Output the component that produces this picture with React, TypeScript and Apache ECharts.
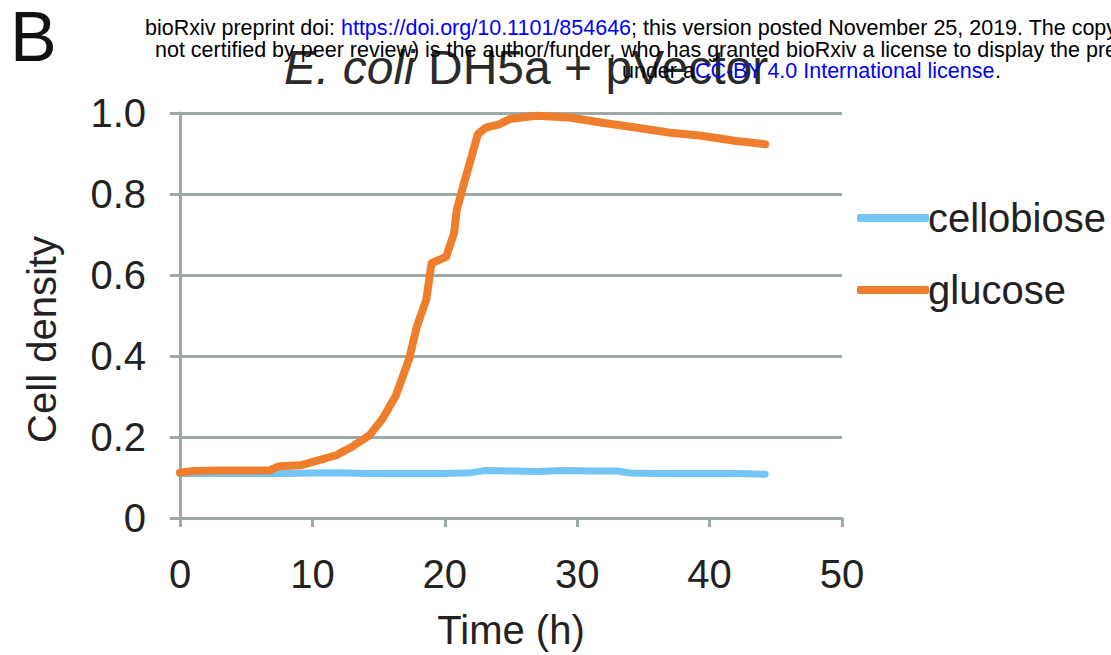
import React, { useEffect, useRef } from "react";
import * as echarts from "echarts";

const seriesNames = ["cellobiose", "glucose"];
const seriesColors = ["#72c5f4", "#ef7e2c"];

const cellobiose: [number, number][] = [
  [0, 0.11], [2, 0.11], [4, 0.11], [6, 0.11], [8, 0.11], [10, 0.111], [12, 0.112],
  [14, 0.11], [16, 0.11], [18, 0.11], [20, 0.11], [22, 0.112], [23, 0.117], [25, 0.116],
  [27, 0.115], [29, 0.117], [31, 0.116], [33, 0.116], [34, 0.111], [36, 0.11], [38, 0.11],
  [40, 0.11], [42, 0.11], [44.2, 0.108],
];

const glucose: [number, number][] = [
  [0, 0.112], [1, 0.116], [3, 0.117], [5, 0.117], [6.8, 0.118], [7.5, 0.128], [9.1, 0.13],
  [10.5, 0.143], [11.8, 0.155], [13.0, 0.176], [14.3, 0.204], [15.3, 0.245], [16.3, 0.302],
  [17.3, 0.392], [17.9, 0.474], [18.6, 0.539], [19.0, 0.629], [20.1, 0.645], [20.7, 0.703],
  [20.9, 0.76], [21.3, 0.809], [22.0, 0.89], [22.5, 0.948], [23.1, 0.964], [24.1, 0.972],
  [24.9, 0.985], [26.9, 0.993], [29.4, 0.989], [31.9, 0.976], [34.4, 0.964], [36.9, 0.952],
  [39.4, 0.944], [42.0, 0.931], [44.2, 0.923],
];

const xTicks = [0, 10, 20, 30, 40, 50];
const yTicks = [0, 0.2, 0.4, 0.6, 0.8, 1.0];

const headerLine1 = ["bioRxiv preprint doi: ", "https://doi.org/10.1101/854646", "; this version posted November 25, 2019. The copyright holder for this preprint (which was"];
const headerLine2 = "not certified by peer review) is the author/funder, who has granted bioRxiv a license to display the preprint in perpetuity. It is made available";
const headerLine3 = ["under a", "CC-BY 4.0 International license", "."];

const FONT = "'Liberation Sans', Arial, Helvetica, sans-serif";
const GRID_COLOR = "#9eaaaa";
const HF = 21.5;

export default function App() {
  const ref = useRef<HTMLDivElement>(null);
  useEffect(() => {
    if (!ref.current) return;
    const chart = echarts.init(ref.current, undefined, { renderer: "svg" });
    const option: any = {
      animation: false,
      backgroundColor: "#ffffff",
      textStyle: { fontFamily: FONT },
      title: {
        text: "{i|E. coli} DH5a + pVector",
        left: 279,
        top: 38,
        textStyle: {
          fontSize: 48,
          fontWeight: "normal",
          color: "#2a2a2a",
          fontFamily: FONT,
          rich: {
            i: { fontSize: 48, fontStyle: "italic", color: "#2a2a2a", fontFamily: FONT },
          },
        },
      },
      legend: {
        orient: "vertical",
        left: 852,
        top: 191,
        itemWidth: 72,
        itemHeight: 8,
        itemGap: 28,
        icon: "roundRect",
        data: seriesNames.map((n, i) => ({ name: n, itemStyle: { color: seriesColors[i] } })),
        textStyle: { fontSize: 40, color: "#222", fontFamily: FONT, lineHeight: 44, padding: [0, 0, 0, -6] },
      },
      grid: { left: 180, top: 113, width: 662, height: 407, containLabel: false },
      xAxis: {
        type: "value",
        min: xTicks[0],
        max: xTicks[xTicks.length - 1],
        interval: 10,
        name: "Time (h)",
        nameLocation: "middle",
        nameGap: 92,
        nameTextStyle: { fontSize: 40, color: "#222", fontFamily: FONT },
        axisLine: { show: true, lineStyle: { color: GRID_COLOR, width: 3 } },
        axisTick: { show: true, length: 9, lineStyle: { color: GRID_COLOR, width: 3 } },
        axisLabel: { fontSize: 40, color: "#222", margin: 36, fontFamily: FONT },
        splitLine: { show: false },
      },
      yAxis: {
        type: "value",
        min: yTicks[0],
        max: yTicks[yTicks.length - 1],
        interval: 0.2,
        name: "Cell density",
        nameLocation: "middle",
        nameGap: 118,
        nameRotate: 90,
        nameTextStyle: { fontSize: 40, color: "#222", fontFamily: FONT, padding: [0, 48, 0, 0] },
        axisLine: { show: true, lineStyle: { color: GRID_COLOR, width: 3 } },
        axisTick: { show: true, length: 10, lineStyle: { color: GRID_COLOR, width: 3 } },
        axisLabel: {
          fontSize: 40,
          color: "#222",
          margin: 34,
          fontFamily: FONT,
          formatter: (v: number) => (v === 0 ? "0" : v.toFixed(1)),
        },
        splitLine: { show: true, lineStyle: { color: GRID_COLOR, width: 3 } },
      },
      series: [
        {
          name: seriesNames[0],
          type: "line",
          data: cellobiose,
          showSymbol: false,
          symbol: "none",
          color: seriesColors[0],
          lineStyle: { width: 7, color: seriesColors[0], cap: "round", join: "round" },
          z: 3,
        },
        {
          name: seriesNames[1],
          type: "line",
          data: glucose,
          showSymbol: false,
          symbol: "none",
          color: seriesColors[1],
          lineStyle: { width: 8, color: seriesColors[1], cap: "round", join: "round" },
          z: 4,
        },
      ],
      graphic: [
        {
          type: "text",
          left: 10,
          top: 2,
          z: 100,
          style: { text: "B", fontSize: 70, fill: "#111", fontFamily: FONT },
        },
        {
          type: "text",
          x: 145,
          y: 28,
          z: 100,
          style: {
            text: `{k|${headerLine1[0]}}{b|${headerLine1[1]}}{k|${headerLine1[2]}}`,
            verticalAlign: "middle",
            fontFamily: FONT,
            fontSize: HF,
            rich: {
              k: { fill: "#000", fontSize: HF, fontFamily: FONT },
              b: { fill: "#0000ff", fontSize: HF, fontFamily: FONT },
            },
          },
        },
        {
          type: "text",
          x: 155,
          y: 50,
          z: 100,
          style: { text: headerLine2, verticalAlign: "middle", fill: "#000", fontSize: HF, fontFamily: FONT },
        },
        {
          type: "text",
          x: 622,
          y: 71,
          z: 100,
          style: {
            text: `{k|${headerLine3[0]}}{b|${headerLine3[1]}}{k|${headerLine3[2]}}`,
            verticalAlign: "middle",
            fontFamily: FONT,
            fontSize: HF,
            rich: {
              k: { fill: "#000", fontSize: HF, fontFamily: FONT },
              b: { fill: "#0000ff", fontSize: HF, fontFamily: FONT },
            },
          },
        },
      ],
    };
    chart.setOption(option);
    return () => chart.dispose();
  }, []);
  return (
    <div
      ref={ref}
      style={{ position: "fixed", left: 0, top: 0, width: 1111, height: 655, background: "#fff" }}
    />
  );
}
